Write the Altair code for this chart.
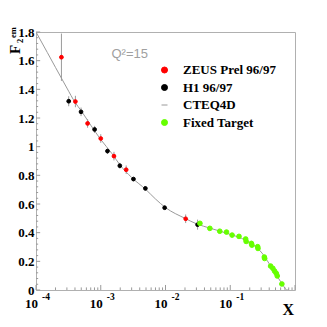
import altair as alt
import pandas as pd

# ---------------- data ----------------
series_names = ["ZEUS Prel 96/97", "H1 96/97", "CTEQ4D", "Fixed Target"]

zeus_x = [2.47e-4, 4.06e-4, 6.26e-4, 1.0e-3, 1.6e-3, 2.47e-3, 2.05e-2]
zeus_y = [1.624, 1.315, 1.162, 1.057, 0.934, 0.839, 0.497]
zeus_err = [0.165, 0.04, 0.03, 0.03, 0.03, 0.03, 0.03]

h1_x = [3.2e-4, 4.96e-4, 8.04e-4, 1.27e-3, 1.97e-3, 3.2e-3, 4.89e-3, 9.7e-3, 3.13e-2]
h1_y = [1.317, 1.243, 1.12, 0.969, 0.867, 0.774, 0.709, 0.574, 0.456]
h1_err = [0.035, 0.03, 0.025, 0.02, 0.02, 0.015, 0.015, 0.015, 0.035]

ft_x = [0.034, 0.0484, 0.0689, 0.0875, 0.1067, 0.1365, 0.173, 0.176, 0.212, 0.216,
        0.265, 0.268, 0.336, 0.34, 0.42, 0.455, 0.484, 0.514, 0.532, 0.627]
ft_y = [0.465, 0.43, 0.41, 0.404, 0.383, 0.374, 0.356, 0.339, 0.325, 0.313,
        0.302, 0.29, 0.23, 0.22, 0.167, 0.151, 0.132, 0.116, 0.098, 0.042]
ft_err = [0.01] * len(ft_x)

cteq_x = [1e-4, 1.5e-4, 2e-4, 3e-4, 4e-4, 5e-4, 7e-4, 1e-3, 1.5e-3, 2e-3, 3e-3, 5e-3,
          7e-3, 1e-2, 2e-2, 3e-2, 5e-2, 7e-2, 0.1, 0.15, 0.2, 0.25, 0.3, 0.35, 0.4,
          0.45, 0.5, 0.55, 0.6, 0.65, 0.7, 0.75, 0.8]
cteq_y = [1.80, 1.656, 1.553, 1.409, 1.31, 1.25, 1.15, 1.05, 0.95, 0.87, 0.785, 0.70,
          0.635, 0.575, 0.50, 0.462, 0.43, 0.41, 0.388, 0.36, 0.33, 0.30, 0.265, 0.225,
          0.183, 0.15, 0.115, 0.085, 0.058, 0.035, 0.012, 0.0, 0.0]

y_tick_values = [0, 0.2, 0.4, 0.6, 0.8, 1.0, 1.2, 1.4, 1.6, 1.8]
x_label_pos = [1e-4, 1e-3, 1e-2, 1e-1]
x_label_base = ["10", "10", "10", "10"]
x_label_exp = ["-4", "-3", "-2", "-1"]

# axis tick positions (decoration)
x_major = [1e-4, 1e-3, 1e-2, 1e-1, 1.0]
x_minor = [m * d for d in [1e-4, 1e-3, 1e-2, 1e-1] for m in range(2, 10)]
y_major = y_tick_values
y_minor = [round(i * 0.04, 2) for i in range(46) if i % 5 != 0]

# ---------------- tables ----------------
pts_small = pd.DataFrame({
    "x": zeus_x + h1_x,
    "y": zeus_y + h1_y,
    "series": [series_names[0]] * len(zeus_x) + [series_names[1]] * len(h1_x),
})
pts_ft = pd.DataFrame({"x": ft_x, "y": ft_y, "series": [series_names[3]] * len(ft_x)})
errs = pd.DataFrame({
    "x": zeus_x + h1_x + ft_x,
    "lo": [v - e for v, e in zip(zeus_y + h1_y + ft_y, zeus_err + h1_err + ft_err)],
    "hi": [v + e for v, e in zip(zeus_y + h1_y + ft_y, zeus_err + h1_err + ft_err)],
})
curve = pd.DataFrame({"x": cteq_x, "y": cteq_y, "series": [series_names[2]] * len(cteq_x)})
xlab = pd.DataFrame({"x": x_label_pos, "base": x_label_base, "exp": x_label_exp})
xmaj = pd.DataFrame({"t": x_major})
xmin = pd.DataFrame({"t": x_minor})
ymaj = pd.DataFrame({"t": y_major})
ymin = pd.DataFrame({"t": y_minor})

SERIF = "Liberation Serif"
GRAY = "#9a9a9a"

xscale = alt.Scale(type="log", domain=[1e-4, 1], nice=False)
yscale = alt.Scale(domain=[0, 1.8], nice=False, zero=False)

x_axis = alt.Axis(labels=False, ticks=False, domain=False, grid=False, title=None)
y_axis = alt.Axis(values=y_tick_values, format="~g", ticks=False, domain=False,
                  grid=False, title=None, labelFont=SERIF, labelFontWeight="bold",
                  labelFontSize=13, labelColor="#000", labelPadding=2,
                  labelFlush=False, labelOverlap=False, labelBound=False)


def xq(field):
    return alt.X(field, scale=xscale, axis=x_axis)


def yq(field):
    return alt.Y(field, scale=yscale, axis=y_axis)


def xd(v):
    return alt.XDatum(v, scale=xscale, axis=x_axis)


def yd(v):
    return alt.YDatum(v, scale=yscale, axis=y_axis)


fill_scale = alt.Scale(domain=series_names,
                       range=["#ff0000", "#000000", "transparent", "#66ff00"])
stroke_scale = alt.Scale(domain=series_names,
                         range=["#ff0000", "#000000", GRAY, "#66ff00"])
shape_scale = alt.Scale(domain=series_names,
                        range=["circle", "circle", "stroke", "circle"])

leg = alt.Legend(title=None, orient="none", legendX=122, legendY=31.5,
                 labelFont=SERIF, labelFontWeight="bold", labelFontSize=13,
                 labelColor="#000", symbolSize=36, symbolStrokeWidth=1,
                 rowPadding=3.5, labelOffset=12, padding=0)

fill_enc = alt.Fill("series:N", scale=fill_scale, legend=leg)
stroke_enc = alt.Stroke("series:N", scale=stroke_scale, legend=leg)
shape_enc = alt.Shape("series:N", scale=shape_scale, legend=leg)

# error bars
err_layer = alt.Chart(errs).mark_rule(color=GRAY, strokeWidth=1, clip=True).encode(
    x=xq("x:Q"), y=yq("lo:Q"), y2="hi:Q")

line_layer = alt.Chart(curve).mark_line(strokeWidth=1, interpolate="monotone",
                                        clip=True).encode(
    x=xq("x:Q"), y=yq("y:Q"), stroke=stroke_enc)

small_layer = alt.Chart(pts_small).mark_point(filled=True, size=14, strokeWidth=1,
                                              opacity=1).encode(
    x=xq("x:Q"), y=yq("y:Q"),
    fill=fill_enc, stroke=stroke_enc, shape=shape_enc)

ft_layer = alt.Chart(pts_ft).mark_point(filled=True, size=22, strokeWidth=1,
                                        opacity=1).encode(
    x=xq("x:Q"), y=yq("y:Q"),
    fill=fill_enc, stroke=stroke_enc, shape=shape_enc)

# inside ticks (ROOT style)
xmaj_layer = alt.Chart(xmaj).mark_rule(color=GRAY, strokeWidth=1).encode(
    x=xq("t:Q"), y=yd(0), y2=alt.Y2Datum(0.035))
xmin_layer = alt.Chart(xmin).mark_rule(color=GRAY, strokeWidth=1).encode(
    x=xq("t:Q"), y=yd(0), y2=alt.Y2Datum(0.018))
ymaj_layer = alt.Chart(ymaj).mark_rule(color=GRAY, strokeWidth=1).encode(
    y=yq("t:Q"), x=xd(1e-4), x2=alt.X2Datum(1.16e-4))
ymin_layer = alt.Chart(ymin).mark_rule(color=GRAY, strokeWidth=1).encode(
    y=yq("t:Q"), x=xd(1e-4), x2=alt.X2Datum(1.08e-4))

# x tick labels 10^n
xbase_layer = alt.Chart(xlab).mark_text(
    align="right", baseline="alphabetic", dx=2, dy=18, font=SERIF,
    fontWeight="bold", fontSize=13, color="#000").encode(
    x=xq("x:Q"), y=yd(0), text="base:N")
xexp_layer = alt.Chart(xlab).mark_text(
    align="left", baseline="alphabetic", dx=6, dy=10, font=SERIF,
    fontWeight="bold", fontSize=9.5, color="#000").encode(
    x=xq("x:Q"), y=yd(0), text="exp:N")

# titles / annotations
xtitle = alt.Chart(pd.DataFrame({"t": ["X"]})).mark_text(
    align="right", baseline="alphabetic", font=SERIF, fontWeight="bold",
    fontSize=16, color="#000").encode(x=alt.value(258), y=alt.value(283), text="t:N")
ytitle_F = alt.Chart(pd.DataFrame({"t": ["F"]})).mark_text(
    align="left", baseline="alphabetic", angle=270, font=SERIF, fontWeight="bold",
    fontSize=15, color="#000").encode(x=alt.value(-16.5), y=alt.value(22), text="t:N")
ytitle_2 = alt.Chart(pd.DataFrame({"t": ["2"]})).mark_text(
    align="left", baseline="alphabetic", angle=270, font=SERIF, fontWeight="bold",
    fontSize=8.5, color="#000").encode(x=alt.value(-13.5), y=alt.value(11), text="t:N")
ytitle_em = alt.Chart(pd.DataFrame({"t": ["em"]})).mark_text(
    align="left", baseline="alphabetic", angle=270, font=SERIF, fontWeight="bold",
    fontSize=8.5, color="#000").encode(x=alt.value(-20.5), y=alt.value(6), text="t:N")
qlabel = alt.Chart(pd.DataFrame({"t": ["Q\u00b2=15"]})).mark_text(
    align="left", baseline="alphabetic", font="Liberation Sans", fontSize=13,
    color="#a0a0a0").encode(x=alt.value(75.5), y=alt.value(25.5), text="t:N")

chart = alt.layer(
    line_layer,
    xmaj_layer, xmin_layer, ymaj_layer, ymin_layer,
    err_layer, small_layer, ft_layer,
    xbase_layer, xexp_layer, xtitle, ytitle_F, ytitle_2, ytitle_em, qlabel,
).properties(
    width=259, height=258,
    autosize=alt.AutoSizeParams(type="none"),
    padding={"left": 28, "top": 24, "right": 24, "bottom": 29},
    background="white",
).configure_view(
    stroke="#b0b0b0", strokeWidth=1
)

chart.save("out.html", embed_options={"renderer": "svg", "actions": False})
